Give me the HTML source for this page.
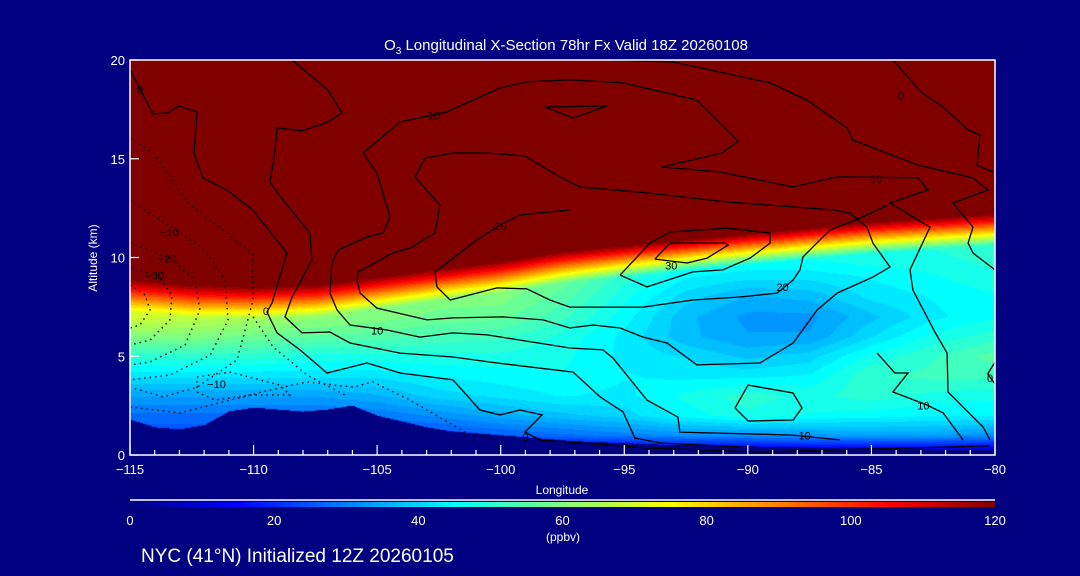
<!DOCTYPE html>
<html><head><meta charset="utf-8">
<style>
html,body{margin:0;padding:0;background:#000080;}
#wrap{position:relative;width:1080px;height:576px;background:#000080;overflow:hidden;font-family:"Liberation Sans",sans-serif;color:#fff;}
canvas{position:absolute;left:130px;top:60px;}
svg{position:absolute;left:0;top:0;}
</style></head>
<body>
<div id="wrap">
<canvas id="field" width="865" height="395"></canvas>
<svg id="ov" width="1080" height="576">
 <text x="566" y="50" text-anchor="middle" font-size="15" fill="#fff">O<tspan font-size="10" dy="4">3</tspan><tspan dy="-4"> Longitudinal X-Section 78hr  Fx Valid 18Z 20260108</tspan></text>
 <text x="562" y="494" text-anchor="middle" font-size="12" fill="#fff">Longitude</text>
 <text x="97" y="258" text-anchor="middle" font-size="12" fill="#fff" transform="rotate(-90 97 258)">Altitude (km)</text>
 <text x="563" y="541" text-anchor="middle" font-size="12" fill="#fff">(ppbv)</text>
 <text x="141" y="562" font-size="19" fill="#fff">NYC (41°N) Initialized 12Z 20260105</text>
 <g id="contours"></g>
 <g id="axes"></g>
 <g id="cbar"></g>
</svg>
</div>
<script>
// ---- data ----
const gridLons = [-115,-112.5,-110,-107.5,-105,-102.5,-100,-97.5,-95,-92.5,-90,-87.5,-85,-82.5,-80];
const gridAlts = [0,1,2,3,4,5,6,7,8,9,10,11,12];
const ozoneRow0  = [22,22,22,22,20,12,8,6,5,5,5,5,5,5,5];
const ozoneRow1  = [24,24,25,25,24,24,26,28,30,32,32,33,34,34,32];
const ozoneRow2  = [28,28,28,28,29,32,35,38,40,45,48,46,45,44,44];
const ozoneRow3  = [34,34,34,34,36,40,42,44,43,47,50,48,50,48,47];
const ozoneRow4  = [42,42,42,42,42,44,45,46,44,43,43,44,51,52,52];
const ozoneRow5  = [50,50,50,48,48,48,48,47,43,41,38,40,47,51,55];
const ozoneRow6  = [60,60,58,56,55,53,52,48,43,37,34,34,41,47,50];
const ozoneRow7  = [70,68,65,62,60,58,57,52,45,37,33,33,38,43,46];
const ozoneRow8  = [75,72,70,66,62,60,60,55,47,40,36,37,42,44,46];
const ozoneRow9  = [80,78,76,70,66,63,62,58,50,44,42,42,44,46,48];
const ozoneRow10 = [85,85,85,80,75,70,65,60,55,48,47,47,48,48,50];
const ozoneRow11 = [90,90,90,85,80,75,70,65,60,55,52,52,50,50,50];
const ozoneRow12 = [90,90,90,85,80,75,70,65,60,55,52,52,50,50,50];
const tropopauseKm = [8.9,8.6,8.5,8.6,9.0,9.4,9.8,10.3,10.6,10.9,11.2,11.5,11.8,12.0,12.2];
const terrainLons = [-115,-114,-113,-112,-111,-110,-109,-108,-107,-106,-105,-104,-103,-102,-101,-100,-99,-98,-97,-96,-95,-94,-93,-92,-91,-90,-89,-88,-87,-86,-85,-84,-83,-82,-81,-80];
const terrainKm = [1.8,1.4,1.3,1.5,2.2,2.4,2.3,2.2,2.3,2.5,2.0,1.7,1.4,1.2,1.1,1.0,0.9,0.8,0.7,0.65,0.6,0.55,0.5,0.5,0.45,0.45,0.4,0.4,0.35,0.35,0.35,0.3,0.3,0.3,0.3,0.3];
const xTickLabels = [-115,-110,-105,-100,-95,-90,-85,-80];
const yTickLabels = [0,5,10,15,20];
const cbarTickLabels = [0,20,40,60,80,100,120];
// contour polylines [lon, alt]
const contourSolid = [
 [[-115,19.5],[-114.07,17.27],[-113.46,17.32],[-113.02,17.67],[-112.29,17.37],[-112.41,15.29],[-112.05,14.03],[-111.08,13.42],[-110.03,12.41],[-108.65,10.23],[-109.25,7.7],[-109.46,7.24],[-109.05,6.18],[-108.12,5.32],[-107.03,4.15],[-105.41,4.66],[-104.07,4.15],[-101.93,3.8],[-100.84,2.28],[-100.03,2.03],[-99.22,2.28],[-98.33,2.03],[-99.02,1.16],[-98.41,0.76],[-93.96,0.35],[-89.51,0.15],[-80.2,0.46]],
 [[-108.44,20],[-106.99,18.48],[-106.42,17.32],[-106.99,16.86],[-108.04,16.41],[-109.05,16.56],[-109.13,15.44],[-109.34,13.82],[-108.81,12.91],[-107.72,11.24],[-107.64,9.87],[-108.44,8.0],[-108.73,6.99],[-108.04,6.18],[-106.91,6.23],[-106.1,5.67],[-104.07,5.16],[-101.93,4.96],[-100.15,4.66],[-97.07,4.2],[-95.98,2.94],[-95.05,2.18],[-94.57,0.86],[-93.55,0.61],[-90.32,0.41]],
 [[-80.2,0.76],[-80.48,1.42],[-81.9,3.19],[-81.94,5.16],[-82.43,6.23],[-83.32,8.35],[-83.44,9.37],[-82.63,11.54],[-84.25,12.76],[-82.71,13.42],[-83.12,14.03],[-86.39,14.08],[-88.17,13.57],[-91.13,14.33],[-93.47,14.58],[-91.05,15.29],[-90.4,15.9],[-92.06,17.97],[-95.05,18.84],[-97.2,18.99],[-98.94,18.89],[-100.03,18.58],[-101.12,17.97],[-102.17,17.37],[-102.74,17.22],[-104.07,16.86],[-105.57,15.29],[-105.01,14.28],[-104.56,12.41],[-104.48,12.05],[-104.76,11.24],[-105.41,11.04],[-106.58,10.38],[-106.83,9.72],[-106.91,8.2],[-106.62,7.34],[-106.1,6.58],[-104.6,6.33],[-103.27,5.97],[-101.93,6.18],[-100.55,6.08],[-99.22,5.82],[-97.2,5.42],[-95.86,5.32],[-95.46,4.91],[-94.08,2.78],[-92.83,1.92],[-92.75,1.16],[-88.17,1.01],[-86.27,0.76]],
 [[-86.55,12.41],[-90.84,12.81],[-94.08,13.27],[-96.79,13.57],[-97.6,14.08],[-99.02,15.14],[-100.55,15.29],[-101.93,15.29],[-103.06,15.04],[-103.47,14.08],[-102.46,12.66],[-102.66,11.24],[-103.67,10.48],[-104.36,10.23],[-105.77,9.27],[-105.81,8.86],[-105.69,8.2],[-105.01,7.44],[-102.98,6.84],[-101.93,6.94],[-99.91,6.99],[-98.29,6.84],[-97.2,6.43],[-96.27,6.58],[-95.17,6.43],[-94.24,5.97],[-93.27,5.67],[-92.06,4.56],[-89.51,4.66],[-88.17,5.67],[-87.2,7.34],[-86.39,8.2],[-84.94,9.01],[-84.25,9.52],[-84.94,10.73],[-85.18,11.54],[-85.87,12.25],[-86.55,12.41]],
 [[-97.2,12.41],[-99.22,12.15],[-100.03,11.65],[-100.96,10.89],[-102.66,9.27],[-102.58,8.51],[-102.05,7.85],[-100.15,8.46],[-98.94,8.41],[-98.01,7.85],[-97.2,7.49],[-94.24,7.49],[-92.22,7.85],[-90.32,8.0],[-88.82,8.2],[-88.17,8.86],[-87.89,9.37],[-87.77,10.03],[-86.68,11.39],[-85.46,12.0],[-84.33,12.66]],
 [[-95.58,20],[-93.03,19.9],[-89.1,18.84],[-87.61,17.97],[-85.99,16.56],[-85.75,15.95],[-83.12,14.68],[-80.89,14.03],[-80.28,13.42],[-81.7,12.76],[-80.89,11.54],[-81.09,10.73],[-80.89,10.23],[-80,9.37]],
 [[-84.13,20],[-82.95,18.33],[-82.1,17.62],[-81.09,16.46],[-80.61,16.2],[-80.73,14.68],[-80.08,14.33]],
 [[-98.21,17.62],[-95.7,17.67],[-97.07,17.06],[-98.21,17.62]],
 [[-93.76,9.92],[-93.15,10.73],[-90.92,10.73],[-90.8,10.63],[-91.65,9.97],[-92.46,9.72],[-93.76,9.92]],
 [[-95.17,9.11],[-94.08,8.51],[-92.22,9.27],[-91.01,9.37],[-89.91,9.97],[-89.1,10.73],[-89.1,11.24],[-90.84,11.49],[-93.15,11.29],[-93.96,10.73],[-95.17,9.11]],
 [[-90.52,2.38],[-89.99,3.54],[-88.17,3.14],[-87.81,2.38],[-88.17,1.77],[-89.99,1.72],[-90.52,2.38]],
 [[-84.77,5.16],[-84.05,4.15],[-83.52,4.15],[-84.13,3.19],[-82.75,2.53],[-82.1,2.13],[-81.29,0.76]],
 [[-80,4.7],[-80.3,4.1],[-80,3.6]]
];
const contourDotted = [
 [[-115,16.05],[-114.07,15.29],[-112.57,12.66],[-111.08,11.24],[-110.06,10.23],[-110.02,7.85],[-110.67,4.81],[-112.29,3.44],[-113.66,2.94],[-115,3.44]],
 [[-115,12.91],[-113.26,11.49],[-111.97,10.38],[-111.16,8.86],[-111.03,6.84],[-111.76,5.06],[-113.38,4.05],[-115,3.8]],
 [[-115,10.73],[-113.38,9.97],[-112.37,8.86],[-112.17,7.34],[-112.77,5.57],[-114.19,4.71],[-115,4.56]],
 [[-115,9.47],[-113.91,9.11],[-113.3,8.1],[-113.38,6.84],[-114.19,5.82],[-115,5.57]],
 [[-115,8.61],[-114.39,8.1],[-114.19,7.34],[-114.6,6.58],[-115,6.43]],
 [[-112.29,3.95],[-110.95,4.2],[-108.93,3.54],[-108.53,3.04],[-110.14,3.04],[-111.56,2.78],[-112.29,3.19],[-112.29,3.95]],
 [[-115,2.43],[-112.98,2.13],[-110.95,2.78],[-109.34,3.29],[-107.84,3.7],[-105.98,3.44],[-105.17,3.7],[-103.67,2.78],[-101.36,1.11],[-100.03,0.76]],
 [[-110.02,6.99],[-109.21,5.47],[-107.84,4.05],[-106.3,3.04]]
];
const contourLabelText = ["0","10","-10","-20","-30","0","10","20","30","20","10","0","10","10","0","-10","0"];
const contourLabelLon  = [-114.6,-102.7,-113.4,-113.5,-114.0,-109.5,-105.0,-100.0,-93.1,-88.6,-84.8,-83.8,-82.9,-87.7,-99.0,-111.5,-80.2];
const contourLabelAlt  = [18.5,17.2,11.3,9.95,9.1,7.3,6.3,11.6,9.6,8.5,14.0,18.2,2.5,1.0,0.9,3.6,3.9];

// ---- scales ----
const X0=130,X1=995,Y0=455,Y1=60;
const xs = lon => X0 + (lon+115)/35*(X1-X0);
const ys = alt => Y0 - alt/20*(Y0-Y1);
const ozoneGrid=[ozoneRow0,ozoneRow1,ozoneRow2,ozoneRow3,ozoneRow4,ozoneRow5,ozoneRow6,ozoneRow7,ozoneRow8,ozoneRow9,ozoneRow10,ozoneRow11,ozoneRow12];

function interp1(xsArr, vals, x){
  if(x<=xsArr[0]) return vals[0];
  for(let i=1;i<xsArr.length;i++){ if(x<=xsArr[i]){const t=(x-xsArr[i-1])/(xsArr[i]-xsArr[i-1]);return vals[i-1]+(vals[i]-vals[i-1])*t;} }
  return vals[vals.length-1];
}
function baseAt(lon,alt){
  const a=Math.max(0,Math.min(12,alt));
  const r=Math.min(11,Math.floor(a)), t=a-r;
  const v0=interp1(gridLons,ozoneGrid[r],lon), v1=interp1(gridLons,ozoneGrid[r+1],lon);
  return v0+(v1-v0)*t;
}
function jet(v){
  const t=Math.max(0,Math.min(1,v/120));
  const c=x=>Math.max(0,Math.min(1,x));
  return [c(1.5-Math.abs(4*t-3))*255,c(1.5-Math.abs(4*t-2))*255,c(1.5-Math.abs(4*t-1))*255];
}
// ---- field ----
(function(){
  const cv=document.getElementById('field'),ctx=cv.getContext('2d');
  const W=cv.width,H=cv.height,img=ctx.createImageData(W,H);
  const w=1.6;
  for(let px=0;px<W;px++){
    const lon=-115+(px+0.5)/W*35;
    const tp=interp1(gridLons,tropopauseKm,lon);
    const ter=interp1(terrainLons,terrainKm,lon);
    for(let py=0;py<H;py++){
      const alt=(H-py-0.5)/H*20;
      let col;
      if(alt<ter){col=[0,0,128];}
      else{
        let v;
        if(alt>=tp) v=120;
        else{
          const b=baseAt(lon,alt);
          if(alt>tp-w){const bb=baseAt(lon,tp-w);v=Math.max(b,bb+(120-bb)*(alt-(tp-w))/w);}else v=b;
        }
        v=Math.round(v/2.5)*2.5;
        col=jet(v);
      }
      const k=(py*W+px)*4;img.data[k]=col[0];img.data[k+1]=col[1];img.data[k+2]=col[2];img.data[k+3]=255;
    }
  }
  ctx.putImageData(img,0,0);
})();
const NS="http://www.w3.org/2000/svg";
function mk(tag,attrs,parent){const e=document.createElementNS(NS,tag);for(const k in attrs)e.setAttribute(k,attrs[k]);parent.appendChild(e);return e;}
// ---- contours ----
(function(){
  const g=document.getElementById('contours');
  contourSolid.forEach((ln,i)=>{
    const p=mk('polyline',{points:ln.map(q=>xs(q[0]).toFixed(1)+','+ys(q[1]).toFixed(1)).join(' '),fill:'none',stroke:'#000','stroke-width':1.3},g);
    
    
  });
  contourDotted.forEach((ln,i)=>{
    const p=mk('polyline',{points:ln.map(q=>xs(q[0]).toFixed(1)+','+ys(q[1]).toFixed(1)).join(' '),fill:'none',stroke:'#000','stroke-width':1.4,'stroke-dasharray':'1.5 4'},g);
    
    
  });
  contourLabelText.forEach((t,i)=>{
    const e=mk('text',{x:xs(contourLabelLon[i]),y:ys(contourLabelAlt[i])+4,'text-anchor':'middle','font-size':11,fill:'#000'},g);
    e.textContent=t.replace('-','\u2212');
    
    
  });
})();
// ---- axes ----
(function(){
  const g=document.getElementById('axes');
  const box=mk('rect',{x:X0,y:Y1,width:X1-X0,height:Y0-Y1,fill:'none',stroke:'#fff','stroke-width':1.5},g);
  
  
  for(let lon=-115;lon<=-80;lon++){
    const major=(lon%5===0);
    const t=mk('line',{x1:xs(lon),x2:xs(lon),y1:Y0,y2:Y0-(major?10:5),stroke:'#fff','stroke-width':1.2},g);
    
    
  }
  xTickLabels.forEach(v=>{
    const e=mk('text',{x:xs(v),y:Y0+19,'text-anchor':'middle','font-size':13,fill:'#fff'},g);
    e.textContent='\u2212'+Math.abs(v);
    
    
  });
  yTickLabels.forEach(v=>{
    const t=mk('line',{x1:X0,x2:X0+9,y1:ys(v),y2:ys(v),stroke:'#fff','stroke-width':1.2},g);
    
    
    const e=mk('text',{x:X0-5,y:ys(v)+5,'text-anchor':'end','font-size':13,fill:'#fff'},g);
    e.textContent=v;
    
    
  });
})();
// ---- colorbar ----
(function(){
  const g=document.getElementById('cbar');
  const defs=mk('defs',{},g);
  const lg=mk('linearGradient',{id:'jetg',x1:0,x2:1,y1:0,y2:0},defs);
  for(let i=0;i<=24;i++){const c=jet(i*5);mk('stop',{offset:(i/24),'stop-color':'rgb('+c.map(Math.round).join(',')+')'},lg);}
  const cx=v=>X0+v/120*(X1-X0);
  const line=mk('line',{x1:X0,x2:X1,y1:500,y2:500,stroke:'#fff','stroke-width':1.5},g);
  
  
  const r=mk('rect',{x:X0,y:502,width:X1-X0,height:5,fill:'url(#jetg)'},g);
  
  
  cbarTickLabels.forEach(v=>{
    const e=mk('text',{x:cx(v),y:525,'text-anchor':'middle','font-size':13,fill:'#fff'},g);
    e.textContent=v;
    
    
  });
})();
</script>
</body></html>
